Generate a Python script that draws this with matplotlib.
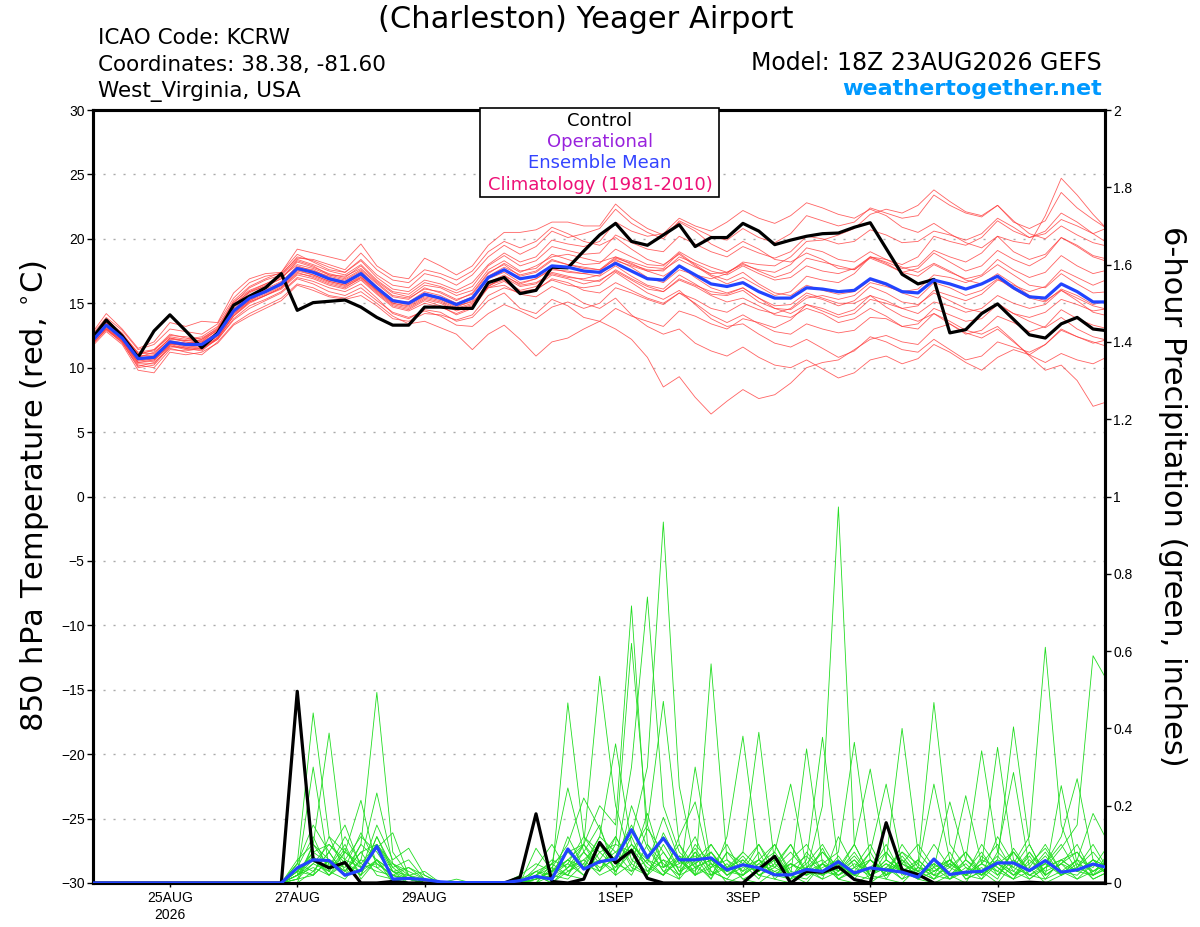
"""KCRW GEFS meteogram: 850 hPa temperature (red) and 6-hour precipitation (green) spaghetti."""
import numpy as np
import matplotlib
matplotlib.use("Agg")
import matplotlib.pyplot as plt
from matplotlib.patches import Rectangle

plt.rcParams["font.family"] = ["Liberation Sans", "DejaVu Sans"]
WIDE = ["DejaVu Sans"]  # header / labels are drawn in a wider face in the original

# --- valid times: hours after 18Z 23AUG2026, every 6 h ---
valid_hours = list(range(0, 385, 6))
tick_hours = [30, 78, 126, 198, 246, 294, 342]
tick_labels = ["25AUG\n2026", "27AUG", "29AUG", "1SEP", "3SEP", "5SEP", "7SEP"]

# --- 850 hPa temperature (C) ---
t_control = [12.1, 13.7, 12.45, 10.8, 12.85, 14.1, 12.85, 11.55, 12.7, 14.85, 15.55, 16.2, 17.3,
             14.45, 15.05, 15.15, 15.25, 14.7, 13.9, 13.3, 13.3, 14.7, 14.7, 14.6, 14.6, 16.6,
             17.0, 15.75, 16.0, 17.8, 17.75, 19.05, 20.3, 21.2, 19.8, 19.5, 20.3, 21.1, 19.4,
             20.1, 20.1, 21.2, 20.6, 19.55, 19.9, 20.2, 20.4, 20.45, 20.9, 21.25, 19.25, 17.25,
             16.5, 16.85, 12.7, 12.95, 14.2, 14.95, 13.75, 12.55, 12.3, 13.4, 13.9, 13.0, 12.85]
t_mean = [11.9, 13.3, 12.3, 10.7, 10.8, 12.0, 11.8, 11.8, 12.6, 14.4, 15.4, 15.9, 16.5,
          17.7, 17.4, 16.9, 16.6, 17.3, 16.2, 15.2, 15.0, 15.7, 15.4, 14.9, 15.4, 17.0,
          17.6, 16.9, 17.1, 17.9, 17.8, 17.5, 17.4, 18.1, 17.5, 16.9, 16.8, 17.9, 17.2,
          16.5, 16.3, 16.6, 15.9, 15.4, 15.4, 16.2, 16.1, 15.9, 16.0, 16.9, 16.5, 15.9,
          15.8, 16.8, 16.5, 16.1, 16.5, 17.1, 16.2, 15.5, 15.4, 16.5, 15.9, 15.1, 15.1]

t_m01 = [12.2, 13.8, 12.6, 11.0, 11.4, 12.6, 12.3, 12.0, 13.0, 15.0, 16.2, 16.8, 17.2, 18.6, 18.3, 17.8, 17.4, 18.4, 17.2, 16.4, 16.2, 17.3, 17.0, 16.4, 17.2, 18.6, 19.5, 18.8, 19.4, 20.6, 20.1, 20.4, 20.8, 22.3, 21.2, 20.5, 20.0, 21.4, 20.8, 20.2, 19.9, 20.8, 20.1, 19.7, 20.4, 21.8, 21.4, 21.0, 21.3, 22.4, 22.0, 21.6, 21.8, 23.4, 22.6, 22.0, 21.7, 22.6, 21.3, 20.8, 21.4, 23.6, 22.4, 21.5, 20.7]
t_m02 = [11.6, 13.0, 12.0, 10.2, 10.0, 11.4, 11.3, 11.5, 12.2, 13.8, 14.8, 15.3, 15.9, 17.0, 16.7, 16.2, 15.9, 16.5, 15.4, 14.2, 13.8, 14.5, 14.3, 13.6, 13.9, 15.2, 15.8, 14.6, 14.2, 15.3, 14.8, 13.9, 13.6, 13.0, 12.2, 10.8, 8.5, 9.3, 7.7, 6.4, 7.4, 8.3, 7.6, 7.9, 8.8, 10.0, 10.4, 10.6, 11.4, 12.2, 12.5, 12.0, 11.8, 13.0, 13.4, 12.6, 12.9, 14.0, 13.5, 12.8, 13.2, 14.5, 13.8, 13.3, 13.0]
t_m03 = [12.0, 13.1, 12.1, 10.4, 10.5, 11.8, 11.5, 11.3, 12.3, 14.0, 15.0, 15.6, 16.2, 17.4, 17.0, 16.5, 16.2, 17.0, 15.9, 14.9, 14.6, 15.3, 15.0, 14.4, 14.8, 16.4, 16.8, 16.0, 16.3, 17.2, 16.9, 16.5, 16.8, 17.5, 16.8, 16.1, 15.9, 16.8, 16.3, 15.6, 15.1, 15.4, 14.8, 14.1, 13.9, 14.6, 14.2, 13.5, 13.8, 14.6, 14.0, 13.2, 13.0, 14.2, 13.6, 12.9, 12.6, 13.2, 12.1, 10.9, 9.8, 10.2, 9.0, 7.0, 7.4]
t_m04 = [12.3, 13.5, 12.5, 10.9, 11.0, 12.3, 12.0, 11.9, 12.8, 14.6, 15.6, 16.0, 16.6, 17.9, 17.5, 17.1, 16.8, 17.5, 16.3, 15.3, 15.0, 15.8, 15.4, 14.8, 15.1, 16.2, 16.4, 15.7, 15.5, 16.3, 15.8, 15.0, 14.6, 15.4, 14.1, 13.2, 12.6, 13.0, 11.9, 11.3, 10.9, 11.6, 10.8, 10.2, 10.0, 10.6, 9.9, 9.2, 9.6, 10.6, 10.9, 10.3, 10.7, 11.8, 11.2, 10.4, 9.8, 10.8, 11.4, 11.0, 11.8, 12.9, 12.4, 12.0, 11.6]
t_m05 = [12.1, 13.6, 12.4, 10.8, 11.2, 12.2, 12.1, 12.1, 12.9, 14.9, 15.9, 16.3, 16.9, 18.2, 17.8, 17.3, 17.0, 17.9, 16.7, 15.8, 15.5, 16.4, 16.2, 15.6, 16.0, 17.6, 18.3, 17.5, 17.7, 18.8, 18.4, 18.0, 18.1, 19.2, 18.6, 18.0, 17.9, 19.0, 18.3, 17.8, 17.4, 18.1, 17.5, 17.0, 17.4, 18.5, 18.2, 17.9, 17.6, 18.6, 18.1, 17.4, 17.1, 18.0, 17.4, 16.9, 17.2, 18.4, 17.6, 17.0, 17.4, 18.7, 17.9, 17.3, 17.6]
t_m06 = [11.8, 13.4, 12.5, 11.2, 11.4, 12.4, 12.2, 12.4, 13.2, 15.2, 16.3, 16.9, 17.4, 18.8, 18.2, 17.6, 17.4, 18.3, 17.0, 16.1, 15.9, 16.8, 16.5, 16.0, 16.6, 18.0, 18.9, 18.2, 18.6, 19.9, 19.6, 19.4, 19.8, 21.3, 20.6, 20.2, 20.4, 21.6, 21.0, 20.6, 21.3, 22.2, 21.6, 21.2, 21.8, 22.8, 22.4, 21.9, 21.6, 22.3, 21.8, 20.9, 20.5, 21.2, 20.4, 19.7, 19.3, 20.2, 19.0, 18.4, 18.8, 20.1, 19.4, 18.6, 18.2]
t_m07 = [11.7, 12.9, 12.0, 10.0, 10.2, 11.6, 11.6, 11.4, 12.2, 13.7, 14.6, 15.2, 15.8, 16.9, 16.5, 15.9, 15.6, 16.2, 15.2, 14.3, 13.9, 14.4, 14.0, 13.3, 13.2, 14.2, 14.9, 14.4, 13.8, 14.7, 15.1, 14.6, 15.0, 16.2, 15.8, 15.3, 14.9, 15.8, 15.3, 14.6, 14.3, 15.0, 14.5, 14.2, 14.6, 15.6, 15.3, 14.8, 15.2, 16.3, 15.8, 15.1, 14.9, 15.8, 15.2, 14.6, 14.3, 15.0, 14.2, 13.6, 13.1, 13.9, 13.0, 12.4, 12.1]
t_m08 = [12.4, 13.9, 12.9, 11.4, 11.8, 13.0, 12.8, 12.6, 13.4, 15.4, 16.6, 17.1, 17.3, 18.5, 18.4, 18.0, 17.6, 18.9, 17.6, 16.8, 16.6, 17.6, 17.3, 16.8, 17.5, 19.0, 19.8, 19.3, 19.8, 20.9, 20.4, 19.8, 19.5, 20.1, 19.2, 18.4, 18.0, 18.8, 17.9, 17.1, 16.5, 17.0, 16.3, 15.6, 15.9, 17.1, 16.8, 16.6, 17.3, 18.6, 18.4, 18.0, 18.6, 20.2, 19.8, 19.5, 20.1, 21.4, 20.6, 20.1, 20.6, 22.0, 21.3, 20.4, 19.6]
t_m09 = [11.9, 13.2, 12.2, 10.6, 10.6, 11.9, 11.7, 11.7, 12.5, 14.3, 15.3, 15.8, 16.4, 17.6, 17.4, 16.8, 16.5, 17.2, 16.1, 15.1, 14.9, 15.6, 15.3, 14.7, 15.2, 16.9, 17.4, 16.6, 16.9, 17.6, 17.5, 17.3, 17.1, 17.9, 17.1, 16.4, 16.1, 17.2, 16.5, 15.7, 15.6, 16.0, 15.1, 14.6, 14.5, 15.4, 15.6, 15.3, 15.6, 16.6, 16.3, 15.9, 16.1, 17.2, 17.0, 16.6, 17.1, 18.0, 17.2, 16.4, 16.2, 17.3, 16.5, 15.8, 15.9]
t_m10 = [12.0, 13.0, 11.9, 10.1, 10.4, 11.5, 11.2, 11.0, 12.0, 13.4, 14.2, 14.8, 15.4, 16.5, 16.2, 15.6, 15.4, 15.9, 15.0, 14.0, 13.4, 13.6, 13.1, 12.6, 11.4, 12.6, 13.3, 12.2, 10.9, 12.0, 12.3, 13.0, 13.6, 14.6, 14.0, 13.6, 13.2, 14.4, 14.0, 13.4, 13.0, 13.8, 13.5, 13.1, 13.7, 14.9, 14.6, 14.1, 14.5, 15.6, 15.2, 14.6, 14.2, 15.1, 14.8, 14.3, 14.6, 15.6, 15.0, 14.6, 14.9, 16.0, 15.4, 14.8, 14.5]
t_m11 = [12.2, 13.5, 12.3, 10.9, 10.9, 12.1, 11.9, 12.2, 12.9, 14.8, 15.8, 16.4, 16.9, 18.3, 17.9, 17.2, 16.9, 17.6, 16.5, 15.5, 15.3, 16.2, 15.8, 15.2, 15.8, 17.4, 18.0, 17.1, 17.4, 18.3, 18.0, 17.8, 17.6, 18.4, 17.8, 17.0, 16.6, 17.6, 17.2, 16.9, 17.3, 18.2, 18.0, 17.9, 18.6, 19.8, 19.9, 20.3, 20.8, 21.9, 22.3, 22.0, 22.6, 23.8, 22.9, 22.1, 21.8, 22.6, 21.4, 20.4, 20.0, 21.0, 20.3, 19.7, 19.4]
t_m12 = [11.5, 12.8, 11.8, 9.8, 9.6, 11.2, 11.0, 11.2, 11.9, 13.3, 14.0, 14.6, 15.2, 16.4, 16.0, 15.5, 15.3, 15.6, 14.8, 13.8, 13.6, 14.2, 14.1, 13.7, 14.1, 15.6, 16.2, 15.8, 16.0, 16.9, 16.6, 16.0, 15.8, 16.6, 16.0, 15.4, 15.0, 15.8, 15.0, 14.1, 13.5, 14.1, 13.4, 12.8, 12.6, 13.4, 13.0, 12.7, 12.9, 13.9, 13.8, 13.2, 13.4, 14.6, 14.1, 13.6, 13.8, 14.9, 14.2, 13.9, 14.3, 15.3, 14.9, 14.4, 14.6]
t_m13 = [12.5, 14.2, 13.0, 11.5, 12.0, 13.5, 13.2, 13.6, 13.5, 15.8, 16.9, 17.3, 17.4, 19.2, 18.9, 18.6, 18.3, 19.6, 17.9, 17.1, 16.9, 18.5, 17.9, 17.2, 17.9, 19.5, 20.5, 20.5, 20.7, 21.3, 21.3, 21.0, 21.0, 22.7, 21.6, 20.8, 20.3, 21.3, 20.6, 19.6, 19.0, 19.8, 19.2, 18.4, 18.2, 18.9, 18.4, 17.7, 17.6, 18.5, 18.0, 17.4, 17.7, 18.9, 18.2, 17.5, 17.9, 19.1, 18.4, 17.9, 18.6, 20.1, 19.5, 18.7, 18.4]
t_m14 = [12.0, 13.4, 12.4, 10.7, 10.9, 12.0, 11.9, 12.0, 12.7, 14.5, 15.5, 16.1, 16.7, 17.8, 17.6, 17.0, 16.7, 17.4, 16.2, 15.2, 15.1, 15.9, 15.6, 15.0, 15.5, 17.1, 17.8, 17.2, 17.5, 18.4, 18.0, 17.7, 17.6, 18.6, 18.0, 17.6, 17.5, 18.6, 18.1, 17.5, 17.2, 17.9, 17.3, 16.8, 17.0, 17.9, 17.5, 17.3, 17.7, 18.6, 18.2, 17.7, 17.9, 19.1, 18.6, 18.2, 18.9, 20.2, 19.8, 19.6, 21.8, 24.7, 23.4, 21.9, 20.6]
t_m15 = [11.8, 13.1, 12.1, 10.3, 10.3, 11.7, 11.5, 11.6, 12.3, 14.0, 15.1, 15.6, 16.2, 17.3, 17.1, 16.6, 16.3, 16.9, 15.8, 14.8, 14.5, 15.2, 14.8, 14.1, 14.6, 16.2, 16.7, 15.9, 16.1, 16.8, 16.4, 16.2, 16.4, 17.4, 16.6, 15.8, 15.3, 16.0, 14.9, 13.8, 13.2, 13.4, 12.6, 11.9, 11.6, 12.2, 11.5, 10.8, 11.3, 12.4, 12.0, 11.4, 11.2, 12.2, 11.4, 10.6, 10.9, 12.0, 11.6, 11.2, 11.8, 13.0, 12.4, 11.9, 12.2]
t_m16 = [12.1, 13.7, 12.7, 11.1, 11.3, 12.5, 12.4, 12.2, 13.1, 15.1, 16.0, 16.5, 17.0, 18.0, 17.7, 17.2, 17.1, 17.7, 16.6, 15.6, 15.4, 16.1, 15.9, 15.3, 15.7, 17.3, 18.1, 17.4, 17.9, 18.6, 18.8, 18.5, 18.2, 18.6, 18.2, 17.8, 17.7, 18.9, 18.0, 17.2, 16.8, 17.4, 16.5, 15.8, 15.6, 16.4, 16.0, 15.7, 15.9, 16.8, 16.4, 15.8, 15.4, 16.6, 16.2, 15.6, 16.0, 16.9, 16.1, 15.4, 15.1, 16.1, 15.6, 14.9, 15.2]
t_m17 = [12.3, 13.3, 12.2, 10.5, 10.7, 11.8, 11.8, 11.9, 12.6, 14.2, 15.2, 15.9, 16.6, 17.6, 17.2, 16.7, 16.4, 17.1, 16.0, 15.0, 14.8, 15.5, 15.2, 14.6, 15.0, 16.6, 17.2, 16.4, 16.6, 17.3, 17.0, 16.9, 17.2, 18.3, 17.9, 17.5, 17.6, 18.4, 17.8, 17.3, 17.4, 18.0, 17.6, 17.4, 18.0, 19.3, 19.0, 18.4, 18.2, 19.0, 18.4, 17.8, 17.4, 18.1, 17.5, 16.8, 16.5, 17.3, 16.5, 15.6, 15.2, 16.0, 15.2, 14.3, 14.0]
t_m18 = [11.9, 13.2, 12.3, 10.6, 10.8, 11.9, 11.6, 11.7, 12.4, 14.2, 15.2, 15.7, 16.3, 17.5, 17.2, 16.7, 16.4, 17.0, 16.0, 15.0, 14.7, 15.4, 15.1, 14.5, 14.9, 16.3, 17.0, 16.3, 16.5, 17.4, 17.1, 16.8, 16.7, 17.6, 16.9, 16.3, 15.9, 16.9, 16.4, 15.9, 15.7, 16.2, 15.4, 14.8, 14.9, 15.8, 15.4, 15.0, 15.0, 15.6, 14.7, 14.0, 13.6, 14.2, 13.4, 12.7, 12.3, 13.0, 12.0, 11.0, 10.4, 11.1, 10.6, 10.3, 10.9]
t_m19 = [12.2, 13.6, 12.6, 11.1, 11.1, 12.3, 12.1, 12.3, 13.0, 14.9, 15.9, 16.5, 17.1, 18.4, 18.0, 17.5, 17.2, 18.0, 16.8, 15.9, 15.7, 16.6, 16.3, 15.8, 16.3, 17.9, 18.7, 17.9, 18.3, 19.4, 19.1, 18.8, 18.9, 20.3, 19.7, 19.2, 19.0, 20.2, 19.6, 19.0, 18.6, 19.4, 18.9, 18.5, 19.0, 20.2, 20.0, 19.6, 19.8, 20.7, 20.3, 19.7, 19.8, 20.6, 20.3, 19.9, 20.4, 21.6, 20.9, 20.1, 20.4, 21.5, 21.0, 20.4, 20.9]
t_m20 = [11.7, 13.0, 12.1, 10.4, 10.6, 11.7, 11.4, 11.5, 12.3, 14.1, 15.1, 15.6, 16.1, 17.2, 16.9, 16.4, 16.1, 16.8, 15.7, 14.7, 14.4, 15.0, 14.7, 14.2, 14.7, 16.3, 17.1, 16.5, 16.9, 17.7, 17.4, 17.3, 17.5, 18.5, 18.1, 17.5, 17.1, 17.9, 17.0, 16.2, 15.8, 16.2, 15.4, 14.6, 14.2, 14.9, 14.4, 13.9, 14.2, 15.3, 15.0, 14.6, 14.8, 16.0, 15.6, 15.2, 15.7, 16.8, 16.4, 15.9, 16.3, 17.6, 17.0, 16.4, 16.9]

# --- 6-hour precipitation (inches) ---
p_control = [0, 0, 0, 0, 0, 0, 0, 0, 0, 0, 0, 0, 0,
             0.496, 0.06, 0.039, 0.053, 0, 0, 0.004, 0, 0, 0, 0, 0, 0, 0, 0.015, 0.179, 0.004,
             0, 0.01, 0.105, 0.052, 0.084, 0.012, 0, 0, 0, 0, 0, 0, 0.036, 0.069, 0, 0.03, 0.028,
             0.042, 0.009, 0, 0.156, 0.034, 0.022, 0, 0, 0, 0, 0, 0, 0.002, 0, 0, 0, 0, 0]
p_mean = [0, 0, 0, 0, 0, 0, 0, 0, 0, 0, 0, 0, 0,
          0.039, 0.06, 0.058, 0.02, 0.033, 0.095, 0.01, 0.012, 0.009, 0.003, 0.001, 0.001, 0.001,
          0.001, 0.006, 0.017, 0.01, 0.088, 0.036, 0.055, 0.062, 0.138, 0.066, 0.116, 0.06, 0.06,
          0.065, 0.034, 0.047, 0.039, 0.021, 0.021, 0.035, 0.03, 0.055, 0.026, 0.039, 0.034, 0.028,
          0.015, 0.062, 0.022, 0.028, 0.03, 0.052, 0.052, 0.032, 0.058, 0.028, 0.034, 0.049, 0.039]

p_m01 = [0, 0, 0, 0, 0, 0, 0, 0, 0, 0, 0, 0, 0, 0.05, 0.44, 0.12, 0.03, 0.08, 0.02, 0.01, 0, 0, 0, 0, 0, 0, 0, 0, 0.01, 0.03, 0.06, 0.02, 0.08, 0.04, 0.12, 0.03, 0.06, 0.01, 0.30, 0.05, 0, 0.02, 0.08, 0.01, 0, 0.04, 0.02, 0.07, 0.01, 0, 0.03, 0.06, 0.01, 0, 0.02, 0.05, 0.01, 0.08, 0.286, 0.04, 0, 0.02, 0.06, 0.01, 0.03]
p_m02 = [0, 0, 0, 0, 0, 0, 0, 0, 0, 0, 0, 0, 0, 0.02, 0.30, 0.04, 0.10, 0.01, 0.06, 0, 0, 0, 0, 0, 0, 0, 0, 0, 0, 0.05, 0.02, 0.10, 0.03, 0.07, 0.15, 0.06, 0.02, 0.12, 0.21, 0.03, 0.01, 0, 0.04, 0.10, 0.02, 0, 0.05, 0.01, 0.03, 0.08, 0.01, 0, 0.04, 0.02, 0.01, 0.06, 0.03, 0, 0.05, 0.12, 0.61, 0.15, 0.04, 0.02, 0.08]
p_m03 = [0, 0, 0, 0, 0, 0, 0, 0, 0, 0, 0, 0, 0, 0, 0.10, 0.388, 0.05, 0.02, 0.12, 0.03, 0, 0, 0, 0, 0, 0, 0, 0, 0.02, 0, 0.04, 0.08, 0.15, 0.02, 0.05, 0.18, 0.04, 0.07, 0.02, 0.567, 0.06, 0.01, 0, 0.03, 0.05, 0.02, 0.09, 0.01, 0, 0.02, 0.06, 0.03, 0.01, 0.05, 0.02, 0, 0.07, 0.03, 0.01, 0.06, 0.02, 0.252, 0.05, 0.01, 0.03]
p_m04 = [0, 0, 0, 0, 0, 0, 0, 0, 0, 0, 0, 0, 0, 0.03, 0.06, 0.02, 0.08, 0.214, 0.04, 0.05, 0.01, 0, 0, 0, 0, 0, 0, 0.01, 0, 0.02, 0.01, 0.05, 0.03, 0.10, 0.08, 0.02, 0.13, 0.05, 0.07, 0.01, 0.12, 0.38, 0.06, 0.02, 0.01, 0.08, 0.03, 0.02, 0.06, 0.01, 0.02, 0.05, 0.03, 0.01, 0.06, 0.02, 0.04, 0.01, 0.09, 0.03, 0.05, 0.12, 0.27, 0.06, 0.02]
p_m05 = [0, 0, 0, 0, 0, 0, 0, 0, 0, 0, 0, 0, 0, 0.01, 0.02, 0.06, 0.03, 0.10, 0.493, 0.08, 0.02, 0.01, 0, 0, 0, 0, 0, 0, 0.03, 0.01, 0.12, 0.04, 0.06, 0.02, 0.20, 0.09, 0.03, 0.01, 0.06, 0.10, 0.04, 0.08, 0.39, 0.05, 0.01, 0.03, 0.01, 0.12, 0.04, 0.02, 0.01, 0.07, 0.02, 0.04, 0.01, 0.03, 0.08, 0.02, 0.06, 0.01, 0.04, 0.09, 0.15, 0.588, 0.515]
p_m06 = [0, 0, 0, 0, 0, 0, 0, 0, 0, 0, 0, 0, 0, 0.04, 0.12, 0.03, 0.01, 0.06, 0.233, 0.05, 0.03, 0.01, 0, 0, 0, 0, 0, 0, 0, 0.04, 0.02, 0.01, 0.10, 0.05, 0.03, 0.14, 0.08, 0.02, 0.04, 0.06, 0.02, 0.05, 0.01, 0.08, 0.256, 0.04, 0.01, 0.03, 0.07, 0.02, 0.05, 0.01, 0.03, 0.10, 0.04, 0.02, 0.01, 0.05, 0.02, 0.07, 0.01, 0.03, 0.06, 0.18, 0.10]
p_m07 = [0, 0, 0, 0, 0, 0, 0, 0, 0, 0, 0, 0, 0, 0, 0.03, 0.08, 0.15, 0.04, 0.09, 0.13, 0.02, 0, 0, 0, 0, 0, 0, 0, 0.01, 0.03, 0.05, 0.02, 0.06, 0.12, 0.04, 0.02, 0.10, 0.03, 0.08, 0.02, 0.05, 0.01, 0.03, 0.06, 0.02, 0.347, 0.05, 0.01, 0.04, 0.10, 0.02, 0.06, 0.03, 0.01, 0.05, 0.02, 0.10, 0.04, 0.01, 0.03, 0.07, 0.02, 0.04, 0.08, 0.03]
p_m08 = [0, 0, 0, 0, 0, 0, 0, 0, 0, 0, 0, 0, 0, 0.02, 0.08, 0.05, 0.02, 0.03, 0.15, 0.06, 0.09, 0.02, 0, 0, 0, 0, 0, 0, 0.02, 0, 0.03, 0.06, 0.02, 0.04, 0.10, 0.05, 0.17, 0.06, 0.02, 0.04, 0.10, 0.02, 0.05, 0.03, 0.01, 0.06, 0.377, 0.05, 0.02, 0.01, 0.08, 0.03, 0.02, 0.06, 0.01, 0.04, 0.02, 0.12, 0.05, 0.02, 0.01, 0.06, 0.03, 0.02, 0.05]
p_m09 = [0, 0, 0, 0, 0, 0, 0, 0, 0, 0, 0, 0, 0, 0.01, 0.05, 0.10, 0.06, 0.12, 0.08, 0.02, 0.04, 0.01, 0, 0, 0, 0, 0, 0, 0.09, 0.03, 0.02, 0.08, 0.04, 0.06, 0.02, 0.10, 0.03, 0.05, 0.12, 0.02, 0.04, 0.06, 0.02, 0.01, 0.05, 0.03, 0.20, 0.973, 0.10, 0.02, 0.04, 0.01, 0.06, 0.02, 0.08, 0.01, 0.03, 0.05, 0.02, 0.04, 0.10, 0.03, 0.01, 0.05, 0.02]
p_m10 = [0, 0, 0, 0, 0, 0, 0, 0, 0, 0, 0, 0, 0, 0.03, 0.02, 0.12, 0.08, 0.05, 0.10, 0.04, 0.01, 0, 0, 0, 0, 0, 0, 0, 0.04, 0.10, 0.03, 0.05, 0.12, 0.08, 0.03, 0.06, 0.04, 0.10, 0.02, 0.08, 0.03, 0.05, 0.10, 0.04, 0.02, 0.01, 0.05, 0.08, 0.364, 0.06, 0.02, 0.04, 0.01, 0.03, 0.06, 0.02, 0.05, 0.10, 0.03, 0.01, 0.04, 0.06, 0.08, 0.02, 0.04]
p_m11 = [0, 0, 0, 0, 0, 0, 0, 0, 0, 0, 0, 0, 0, 0.02, 0.04, 0.02, 0.05, 0.03, 0.06, 0.01, 0.02, 0.03, 0, 0, 0, 0, 0, 0, 0.01, 0.02, 0.466, 0.12, 0.06, 0.03, 0.09, 0.04, 0.02, 0.07, 0.05, 0.01, 0.08, 0.03, 0.06, 0.02, 0.04, 0.07, 0.02, 0.04, 0.10, 0.295, 0.06, 0.03, 0.05, 0.01, 0.03, 0.08, 0.02, 0.06, 0.04, 0.10, 0.02, 0.05, 0.01, 0.03, 0.06]
p_m12 = [0, 0, 0, 0, 0, 0, 0, 0, 0, 0, 0, 0, 0, 0.01, 0.10, 0.06, 0.04, 0.13, 0.05, 0.02, 0.01, 0, 0, 0.01, 0, 0, 0, 0, 0.03, 0.05, 0.246, 0.08, 0.03, 0.12, 0.05, 0.02, 0.06, 0.04, 0.09, 0.03, 0.01, 0.06, 0.02, 0.05, 0.10, 0.02, 0.04, 0.06, 0.02, 0.08, 0.256, 0.05, 0.02, 0.04, 0.06, 0.01, 0.03, 0.07, 0.02, 0.05, 0.09, 0.03, 0.02, 0.06, 0.04]
p_m13 = [0, 0, 0, 0, 0, 0, 0, 0, 0, 0, 0, 0, 0, 0.03, 0.07, 0.02, 0.06, 0.04, 0.10, 0.03, 0.02, 0, 0, 0, 0, 0, 0, 0, 0.02, 0.04, 0.10, 0.22, 0.14, 0.05, 0.10, 0.06, 0.12, 0.03, 0.05, 0.08, 0.02, 0.04, 0.06, 0.10, 0.03, 0.02, 0.05, 0.03, 0.08, 0.02, 0.06, 0.40, 0.08, 0.03, 0.05, 0.02, 0.06, 0.04, 0.01, 0.08, 0.03, 0.05, 0.10, 0.02, 0.04]
p_m14 = [0, 0, 0, 0, 0, 0, 0, 0, 0, 0, 0, 0, 0, 0.05, 0.15, 0.08, 0.02, 0.06, 0.04, 0.01, 0, 0, 0, 0, 0, 0, 0, 0.02, 0.05, 0.03, 0.08, 0.10, 0.535, 0.20, 0.06, 0.03, 0.08, 0.02, 0.10, 0.05, 0.03, 0.07, 0.02, 0.04, 0.08, 0.03, 0.02, 0.05, 0.01, 0.06, 0.03, 0.08, 0.05, 0.467, 0.10, 0.04, 0.02, 0.05, 0.08, 0.03, 0.06, 0.02, 0.04, 0.10, 0.03]
p_m15 = [0, 0, 0, 0, 0, 0, 0, 0, 0, 0, 0, 0, 0, 0.02, 0.05, 0.03, 0.09, 0.02, 0.12, 0.04, 0.06, 0.01, 0, 0, 0, 0, 0, 0.01, 0.03, 0.02, 0.06, 0.04, 0.12, 0.36, 0.10, 0.05, 0.02, 0.06, 0.03, 0.10, 0.04, 0.02, 0.05, 0.08, 0.02, 0.04, 0.06, 0.02, 0.05, 0.03, 0.10, 0.02, 0.04, 0.256, 0.06, 0.02, 0.05, 0.03, 0.08, 0.02, 0.04, 0.06, 0.03, 0.05, 0.02]
p_m16 = [0, 0, 0, 0, 0, 0, 0, 0, 0, 0, 0, 0, 0, 0.06, 0.10, 0.04, 0.12, 0.05, 0.03, 0.02, 0.01, 0, 0, 0, 0, 0, 0, 0, 0.02, 0.06, 0.04, 0.10, 0.20, 0.15, 0.717, 0.10, 0.05, 0.02, 0.08, 0.04, 0.06, 0.03, 0.10, 0.02, 0.05, 0.03, 0.08, 0.04, 0.02, 0.06, 0.03, 0.05, 0.10, 0.04, 0.21, 0.06, 0.02, 0.05, 0.03, 0.08, 0.02, 0.05, 0.03, 0.06, 0.04]
p_m17 = [0, 0, 0, 0, 0, 0, 0, 0, 0, 0, 0, 0, 0, 0.03, 0.08, 0.10, 0.05, 0.02, 0.06, 0.03, 0.01, 0, 0, 0, 0, 0, 0, 0, 0.01, 0.02, 0.05, 0.12, 0.08, 0.10, 0.62, 0.15, 0.04, 0.06, 0.02, 0.05, 0.03, 0.08, 0.04, 0.02, 0.06, 0.10, 0.03, 0.05, 0.02, 0.04, 0.08, 0.03, 0.02, 0.06, 0.04, 0.226, 0.05, 0.02, 0.08, 0.03, 0.05, 0.02, 0.06, 0.04, 0.10]
p_m18 = [0, 0, 0, 0, 0, 0, 0, 0, 0, 0, 0, 0, 0, 0.04, 0.02, 0.06, 0.03, 0.08, 0.10, 0.05, 0.02, 0, 0, 0, 0, 0, 0, 0, 0.02, 0.05, 0.08, 0.04, 0.10, 0.05, 0.30, 0.74, 0.20, 0.08, 0.04, 0.06, 0.02, 0.05, 0.03, 0.07, 0.02, 0.05, 0.10, 0.03, 0.06, 0.02, 0.04, 0.08, 0.03, 0.05, 0.02, 0.06, 0.342, 0.08, 0.04, 0.02, 0.05, 0.10, 0.03, 0.06, 0.02]
p_m19 = [0, 0, 0, 0, 0, 0, 0, 0, 0, 0, 0, 0, 0, 0.02, 0.06, 0.03, 0.08, 0.04, 0.05, 0.02, 0, 0, 0, 0, 0, 0, 0, 0, 0.01, 0.03, 0.06, 0.10, 0.05, 0.08, 0.12, 0.30, 0.934, 0.25, 0.05, 0.08, 0.03, 0.02, 0.06, 0.04, 0.10, 0.03, 0.05, 0.02, 0.04, 0.06, 0.02, 0.10, 0.04, 0.03, 0.06, 0.02, 0.05, 0.351, 0.06, 0.03, 0.08, 0.02, 0.05, 0.03, 0.06]
p_m20 = [0, 0, 0, 0, 0, 0, 0, 0, 0, 0, 0, 0, 0, 0.05, 0.03, 0.08, 0.02, 0.10, 0.06, 0.03, 0.04, 0.02, 0, 0, 0, 0, 0, 0, 0.02, 0.01, 0.04, 0.06, 0.10, 0.03, 0.08, 0.15, 0.47, 0.10, 0.04, 0.02, 0.08, 0.05, 0.03, 0.06, 0.02, 0.04, 0.08, 0.03, 0.10, 0.02, 0.05, 0.03, 0.06, 0.02, 0.04, 0.08, 0.03, 0.06, 0.404, 0.10, 0.02, 0.05, 0.08, 0.03, 0.05]

t_members = [t_m01, t_m02, t_m03, t_m04, t_m05, t_m06, t_m07, t_m08, t_m09, t_m10,
             t_m11, t_m12, t_m13, t_m14, t_m15, t_m16, t_m17, t_m18, t_m19, t_m20]
p_members = [p_m01, p_m02, p_m03, p_m04, p_m05, p_m06, p_m07, p_m08, p_m09, p_m10,
             p_m11, p_m12, p_m13, p_m14, p_m15, p_m16, p_m17, p_m18, p_m19, p_m20]

RED, GREEN, BLUE = "#ff3b3b", "#22dd22", "#2244ff"

fig = plt.figure(figsize=(12, 9.27), dpi=100)
ax = fig.add_axes([93 / 1200, 44 / 927, 1012 / 1200, 773 / 927])
ax2 = ax.twinx()

for m in t_members:
    ax.plot(valid_hours, m, color=RED, lw=0.6, alpha=0.8, zorder=2)
ax.plot(valid_hours, t_control, color="black", lw=2.3, zorder=4)
ax.plot(valid_hours, t_mean, color=BLUE, lw=2.3, zorder=5)

for m in p_members:
    ax2.plot(valid_hours, m, color=GREEN, lw=0.6, zorder=2)
ax2.plot(valid_hours, p_control, color="black", lw=2.3, zorder=4)
ax2.plot(valid_hours, p_mean, color=BLUE, lw=2.3, zorder=5)

ax.set_xlim(1, 382.5)
ax.set_ylim(-30, 30)
ax2.set_ylim(0, 2)
ax.set_yticks(range(-30, 31, 5))
ax2.set_yticks(np.arange(0, 2.01, 0.2))
ax2.set_yticklabels(["0", "0.2", "0.4", "0.6", "0.8", "1", "1.2", "1.4", "1.6", "1.8", "2"])
ax.set_xticks(tick_hours)
ax.set_xticklabels(tick_labels)

for g in range(-25, 30, 5):
    ax.axhline(g, color="#aaaaaa", lw=1, ls=(0, (1.5, 5.7)), zorder=1)

for a in (ax, ax2):
    a.tick_params(labelsize=10, length=4, width=1, direction="out", pad=2)
    for s in a.spines.values():
        s.set_linewidth(2.2)
ax.tick_params(axis="x", length=3, pad=3)

# axis titles placed by pixel position
fig.text(35 / 1200, 1 - 496 / 927, "850 hPa Temperature (red, $^{\\circ}$C)", fontsize=22,
         family=WIDE, rotation=90, ha="center", va="center")
fig.text(1173 / 1200, 1 - 496 / 927, "6-hour Precipitation (green, inches)", fontsize=22,
         family=WIDE, rotation=270, ha="center", va="center")

fig.text(586 / 1200, 1 - 19 / 927, "(Charleston) Yeager Airport", fontsize=22, family=WIDE,
         ha="center", va="center")
for txt, ypx in [("ICAO Code: KCRW", 38), ("Coordinates: 38.38, -81.60", 65), ("West_Virginia, USA", 92)]:
    fig.text(98 / 1200, 1 - ypx / 927, txt, fontsize=15.5, family=WIDE, va="center")
fig.text(1102 / 1200, 1 - 63 / 927, "Model: 18Z 23AUG2026 GEFS", fontsize=17, family=WIDE,
         ha="right", va="center")
fig.text(1102 / 1200, 1 - 89 / 927, "weathertogether.net", fontsize=16, fontweight="bold",
         family=WIDE, color="#0099ff", ha="right", va="center")

# legend box (text only, like the original)
fig.patches.append(Rectangle((480 / 1200, 1 - 197 / 927), 239 / 1200, 89 / 927,
                             transform=fig.transFigure, facecolor="white",
                             edgecolor="black", lw=1.2, zorder=10))
for txt, col, ypx in [("Control", "black", 121), ("Operational", "#9922dd", 142),
                      ("Ensemble Mean", "#3344ff", 163), ("Climatology (1981-2010)", "#ee1177", 185)]:
    fig.text(600 / 1200, 1 - ypx / 927, txt, color=col, fontsize=13, family=WIDE,
             ha="center", va="center", zorder=11)

fig.savefig("out.png", dpi=100)
